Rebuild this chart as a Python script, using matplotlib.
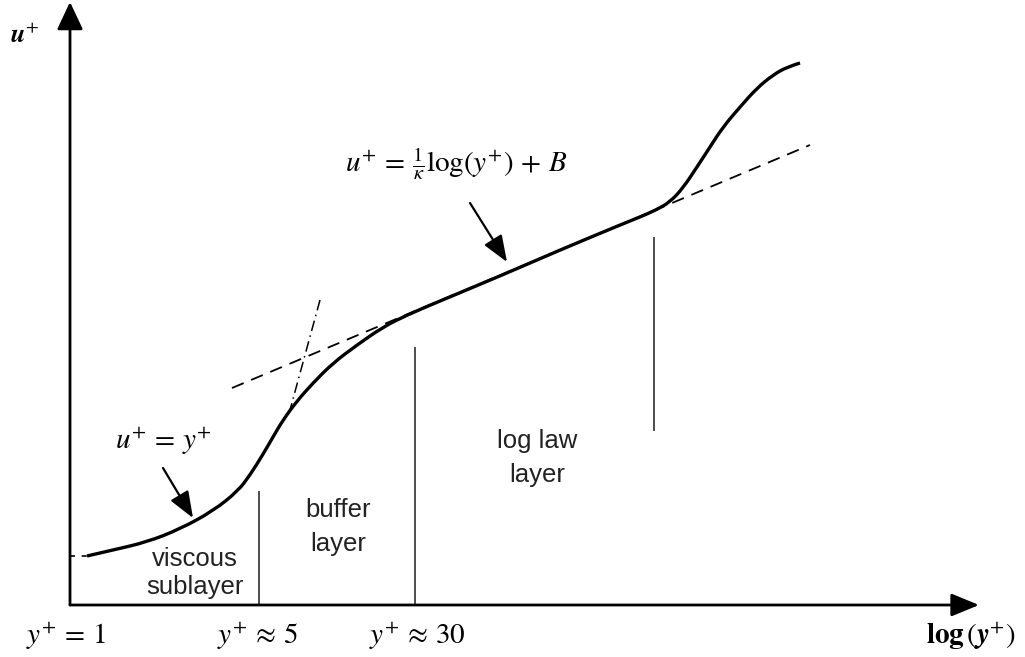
"""
Schematic of the turbulent boundary layer velocity profile (law of the wall),
drawn in a plain drawing frame: x grows to the right, y grows downward.
"""

import matplotlib.pyplot as plt
from matplotlib.path import Path
from matplotlib.patches import PathPatch

plt.rcParams['mathtext.fontset'] = 'stix'
plt.rcParams['font.family'] = ['Liberation Sans', 'DejaVu Sans']

OUT_FILE = "out.png"

# axis origin and arrow tips
ORIGIN = (70, 605)
Y_AXIS_TIP = (70, 2)
X_AXIS_TIP = (979, 605)

# u+ against log(y+)
PROFILE_X = [87, 113, 147, 180, 213, 238, 250, 262, 273, 283, 297, 313, 333,
             357, 383, 407, 440, 500, 560, 620, 640, 656, 670, 683, 697, 710,
             723, 740, 757, 773, 787, 800]
PROFILE_Y = [556, 550, 542, 529, 511, 491, 475, 456, 437, 420, 401, 383, 363,
             345, 327, 315, 301, 276, 250, 225, 217, 210, 202, 188, 167, 147,
             127, 107, 88, 75, 67, 63]

# log law  u+ = 1/k log(y+) + B
LOG_LAW_X = [232, 810]
LOG_LAW_Y = [388, 145]

# linear law  u+ = y+
LINEAR_X = [320, 290]
LINEAR_Y = [300, 410]

# short dashed stub at the wall
WALL_X = [70, 87]
WALL_Y = [556, 556]

# layer boundaries
BOUNDARY_X = [259, 415, 654]
BOUNDARY_TOP = [492, 348, 238]
BOUNDARY_BOTTOM = [605, 605, 430]

LAYER_NAMES = ["viscous\nsublayer", "buffer\nlayer", "log law\nlayer"]
LAYER_X = [195, 338, 537]
LAYER_Y = [573, 527, 458]
LAYER_SPACING = [1.25, 1.5, 1.5]

TICK_LABELS = [r"$y^{+}\,=\,1$", r"$y^{+}\,\approx\,5$",
               r"$y^{+}\,\approx\,30$"]
TICK_X = [66, 257, 417]
TICK_Y = 637


def smooth_path(xs, ys):
    """Quadratic B-spline path through the midpoints of the given points."""
    pts = list(zip(xs, ys))
    verts = [pts[0]]
    codes = [Path.MOVETO]
    for i in range(1, len(pts) - 1):
        if i < len(pts) - 2:
            end = ((pts[i][0] + pts[i + 1][0]) / 2,
                   (pts[i][1] + pts[i + 1][1]) / 2)
        else:
            end = pts[-1]
        verts += [pts[i], end]
        codes += [Path.CURVE3, Path.CURVE3]
    return Path(verts, codes)


def draw_arrow(ax, start, tip, lw, head_length, head_width, scale):
    ax.annotate("", xy=tip, xytext=start,
                arrowprops=dict(arrowstyle="-|>,head_length=%s,head_width=%s"
                                % (head_length, head_width),
                                lw=lw, color="black", mutation_scale=scale,
                                shrinkA=0, shrinkB=0))


def plot_wall_law():
    fig = plt.figure(figsize=(10.25, 6.57), dpi=100)
    ax = fig.add_axes([0, 0, 1, 1])
    ax.set_xlim(0, 1025)
    ax.set_ylim(657, 0)
    ax.axis("off")

    # axes with arrow heads
    draw_arrow(ax, ORIGIN, Y_AXIS_TIP, 2.0, 0.85, 0.4, 20)
    draw_arrow(ax, ORIGIN, X_AXIS_TIP, 2.0, 0.85, 0.35, 20)

    # profile and the two asymptotes
    ax.add_patch(PathPatch(smooth_path(PROFILE_X, PROFILE_Y), fill=False,
                           edgecolor="black", lw=2.4, capstyle="butt",
                           joinstyle="round"))
    ax.plot(LOG_LAW_X, LOG_LAW_Y, color="black", lw=1.3,
            dashes=(7, 4.5))
    ax.plot(LINEAR_X, LINEAR_Y, color="black", lw=1.1,
            dashes=(7, 3, 1, 3))
    ax.plot(WALL_X, WALL_Y, color="black", lw=1.2, dashes=(3, 4))

    # layer boundaries
    for x, top, bottom in zip(BOUNDARY_X, BOUNDARY_TOP, BOUNDARY_BOTTOM):
        ax.plot([x, x], [top, bottom], color="#4d4d4d", lw=1.4)

    for name, x, y, ls in zip(LAYER_NAMES, LAYER_X, LAYER_Y, LAYER_SPACING):
        ax.text(x, y, name, ha="center", va="center", fontsize=18.5,
                color="#222222", linespacing=ls)

    # equations with their pointers
    ax.text(456, 164, r"$u^{+}\,=\,\frac{1}{\kappa}\log(y^{+})\,+\,B$",
            ha="center", va="center", fontsize=21)
    draw_arrow(ax, (470, 203), (507, 262), 1.6, 0.9, 0.35, 18)

    ax.text(163, 442, r"$u^{+}\,=\,y^{+}$", ha="center", va="center",
            fontsize=21)
    draw_arrow(ax, (163, 468), (193, 518), 1.6, 0.9, 0.35, 18)

    # axis labels
    ax.text(24, 36, r"$\boldsymbol{u}^{+}$", ha="center", va="center",
            fontsize=19)
    ax.text(971, 637, r"$\mathbf{log}\,(\boldsymbol{y}^{+})$", ha="center",
            va="center", fontsize=21)

    for label, x in zip(TICK_LABELS, TICK_X):
        ax.text(x, TICK_Y, label, ha="center", va="center", fontsize=21)

    fig.savefig(OUT_FILE, dpi=100)


if __name__ == "__main__":
    plot_wall_law()
